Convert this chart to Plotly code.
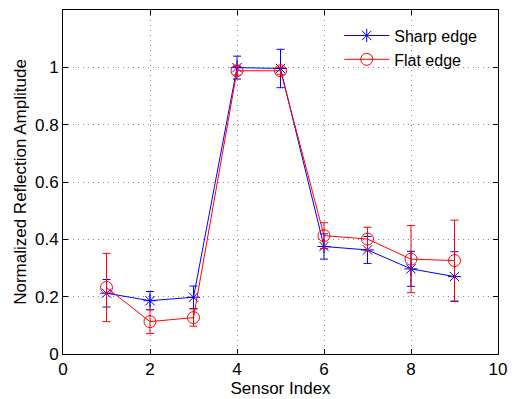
import plotly.graph_objects as go

sensor = [1, 2, 3, 4, 5, 6, 7, 8, 9]
sharp = [0.212, 0.186, 0.198, 0.999, 0.996, 0.375, 0.363, 0.297, 0.270]
sharp_err = [0.048, 0.032, 0.039, 0.040, 0.067, 0.044, 0.047, 0.061, 0.087]
flat = [0.232, 0.113, 0.127, 0.988, 0.988, 0.413, 0.401, 0.331, 0.326]
flat_err = [0.119, 0.042, 0.030, 0.015, 0.012, 0.045, 0.041, 0.117, 0.141]

FONT = "Liberation Sans, Arial"

fig = go.Figure()
fig.add_trace(go.Scatter(
    x=sensor, y=sharp, name="Sharp edge", mode="lines+markers",
    line=dict(color="#0000ff", width=1),
    marker=dict(symbol="asterisk-open", size=11, color="#0000ff",
                line=dict(color="#0000ff", width=1)),
    error_y=dict(type="data", array=sharp_err, color="#0000ff", thickness=1, width=4),
))
fig.add_trace(go.Scatter(
    x=sensor, y=flat, name="Flat edge", mode="lines+markers",
    line=dict(color="#ff0000", width=1),
    marker=dict(symbol="circle-open", size=12, color="#ff0000",
                line=dict(color="#ff0000", width=1)),
    error_y=dict(type="data", array=flat_err, color="#ff0000", thickness=1, width=4),
))

axis_common = dict(
    showline=True, linecolor="black", linewidth=1, mirror="ticks",
    ticks="inside", ticklen=5, tickcolor="black",
    showgrid=True, gridcolor="#8a8a8a", griddash="1px,4px", gridwidth=1,
    zeroline=False, automargin=False,
    tickfont=dict(family=FONT, size=17, color="black"),
)

fig.update_xaxes(range=[0, 10], tickvals=[0, 2, 4, 6, 8, 10],
                 title=dict(text="Sensor Index", standoff=0,
                            font=dict(family=FONT, size=17, color="black")),
                 **axis_common)
fig.update_yaxes(range=[0, 1.2], tickvals=[0, 0.2, 0.4, 0.6, 0.8, 1],
                 ticktext=["0", "0.2", "0.4", "0.6", "0.8", "1"],
                 title=dict(text="Normalized Reflection Amplitude", standoff=4,
                            font=dict(family=FONT, size=17, color="black")),
                 **axis_common)

fig.update_layout(
    width=512, height=399,
    margin=dict(l=63, r=14, t=10, b=45),
    plot_bgcolor="white", paper_bgcolor="white",
    legend=dict(x=0.635, y=0.975, xanchor="left", yanchor="top",
                bgcolor="rgba(255,255,255,0)", borderwidth=0,
                font=dict(family=FONT, size=16, color="black"),
                tracegroupgap=0, itemwidth=45),
)

fig.write_html("out.html")
